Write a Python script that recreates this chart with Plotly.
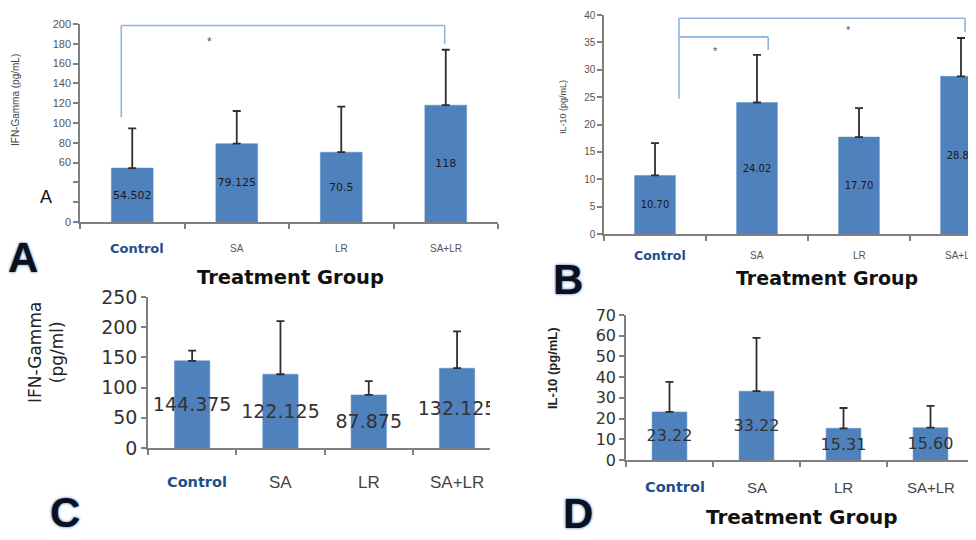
import plotly.graph_objects as go

# The page body adds an 8px margin, so the figure is drawn 8px smaller and
# reference pixel positions are shifted by that offset.
OFF = 8
W, H = 976 - OFF, 540 - OFF

categories = ["Control", "SA", "LR", "SA+LR"]

# Panel A: IFN-Gamma (first experiment)
a_values = [54.502, 79.125, 70.5, 118]
a_errors = [40, 33, 46, 56]
a_labels = ["54.502", "79.125", "70.5", "118"]
a_ticks = [0, 20, 40, 60, 80, 100, 120, 140, 160, 180, 200]
a_ticktext = ["0", "", "", "60", "80", "100", "120", "140", "160", "180", "200"]

# Panel B: IL-10 (first experiment)
b_values = [10.70, 24.02, 17.70, 28.80]
b_errors = [5.9, 8.7, 5.3, 7.0]
b_labels = ["10.70", "24.02", "17.70", "28.80"]
b_ticks = [0, 5, 10, 15, 20, 25, 30, 35, 40]

# Panel C: IFN-Gamma (second experiment)
c_values = [144.375, 122.125, 87.875, 132.125]
c_errors = [17, 88, 23, 61]
c_labels = ["144.375", "122.125", "87.875", "132.125"]
c_ticks = [0, 50, 100, 150, 200, 250]

# Panel D: IL-10 (second experiment)
d_values = [23.22, 33.22, 15.31, 15.60]
d_errors = [14.5, 25.7, 9.8, 10.5]
d_labels = ["23.22", "33.22", "15.31", "15.60"]
d_ticks = [0, 10, 20, 30, 40, 50, 60, 70]


def px(x):
    return (x - OFF) / W


def py(y):
    return 1 - (y - OFF) / H


BAR = "#4f81bd"
AXIS = "#7f7f7f"
ERR = "#2e2e2e"
BRACKET = "#8db4e2"
CTRL = "#1f4e8c"

fig = go.Figure()

panels = [
    dict(key="", vals=a_values, errs=a_errors, labels=a_labels, tsize=11, tcolor="#1a1a1a"),
    dict(key="2", vals=b_values, errs=b_errors, labels=b_labels, tsize=10, tcolor="#1a1a1a"),
    dict(key="3", vals=c_values, errs=c_errors, labels=c_labels, tsize=19, tcolor="#333333"),
    dict(key="4", vals=d_values, errs=d_errors, labels=d_labels, tsize=16, tcolor="#333333"),
]

for p in panels:
    fig.add_trace(go.Bar(
        x=categories, y=p["vals"], width=0.4,
        marker=dict(color=BAR, line=dict(color="#5b8cc6", width=0.5)),
        error_y=dict(type="data", array=p["errs"], arrayminus=[0] * 4, symmetric=False,
                     color=ERR, thickness=1.8, width=4),
        text=p["labels"], textposition="inside", insidetextanchor="middle",
        textangle=0, constraintext="none",
        textfont=dict(family="DejaVu Sans", size=p["tsize"], color=p["tcolor"]),
        xaxis="x" + p["key"], yaxis="y" + p["key"], showlegend=False, hoverinfo="skip",
    ))


def xax(domain, rng, anchor):
    return dict(domain=domain, range=rng, anchor=anchor, type="category",
                showline=True, linecolor=AXIS, linewidth=1.5,
                ticks="outside", tickson="boundaries", ticklen=5, tickcolor=AXIS, tickwidth=1.5,
                showticklabels=False, showgrid=False, zeroline=False, fixedrange=True,
                automargin=False)


def yax(domain, rng, anchor, ticks, ticktext, size, color, family="Liberation Sans"):
    return dict(domain=domain, range=rng, anchor=anchor,
                showline=True, linecolor=AXIS, linewidth=1.5,
                ticks="outside", ticklen=5, tickcolor=AXIS, tickwidth=1.5,
                tickvals=ticks, ticktext=ticktext,
                tickfont=dict(family=family, size=size, color=color),
                showgrid=False, zeroline=False, fixedrange=True, automargin=False)


fig.update_layout(
    width=W, height=H, margin=dict(l=0, r=0, t=0, b=0, pad=0, autoexpand=False),
    paper_bgcolor="white", plot_bgcolor="rgba(0,0,0,0)",
    bargap=0.6,
    xaxis=xax([px(80), px(498)], [-0.5, 3.5], "y"),
    yaxis=yax([py(222), py(24)], [0, 200], "x", a_ticks, a_ticktext, 11, "#555555"),
    xaxis2=xax([px(604), 1.0], [-0.5, -0.5 + (976 - 604) / 102.0], "y2"),
    yaxis2=yax([py(234), py(15)], [0, 40], "x2", b_ticks, [str(t) for t in b_ticks], 10, "#555555"),
    xaxis3=xax([px(148), px(490)], [-0.5, -0.5 + (490 - 148) / 88.3], "y3"),
    yaxis3=yax([py(448), py(297)], [0, 250], "x3", c_ticks, [str(t) for t in c_ticks], 19, "#333333", "DejaVu Sans"),
    xaxis4=xax([px(626), px(974)], [-0.5, 3.5], "y4"),
    yaxis4=yax([py(460), py(315)], [0, 70], "x4", d_ticks, [str(t) for t in d_ticks], 16, "#333333", "DejaVu Sans"),
)

ann = []


def pann(xc, yc, text, font, angle=0, yanchor="middle"):
    return dict(x=px(xc), y=py(yc), xref="paper", yref="paper", text=text, textangle=angle,
                xanchor="center", yanchor=yanchor, showarrow=False, font=font)


# Category labels (positioned through each x axis)
cat_specs = [
    ("x", 249, 13, 10, "#555555"),
    ("x2", 255, 12.5, 10, "#555555"),
    ("x3", 482, 14.5, 17, "#444444"),
    ("x4", 487, 14.5, 15, "#444444"),
]
for xref, ypix, csize, size, color in cat_specs:
    for c in categories:
        if c == "Control":
            ann.append(dict(x=c, y=py(ypix), xref=xref, yref="paper", text="<b>" + c + "</b>",
                            showarrow=False, xshift=5, xanchor="center", yanchor="middle",
                            font=dict(family="DejaVu Sans", size=csize, color=CTRL, weight=900)))
        else:
            ann.append(dict(x=c, y=py(ypix), xref=xref, yref="paper", text=c, showarrow=False,
                            xanchor="center", yanchor="middle",
                            font=dict(family="Liberation Sans", size=size, color=color)))

# "Treatment Group" titles
for xc, yc, fs in [(290, 277, 19.5), (827, 278, 19), (802, 517, 20)]:
    ann.append(pann(xc, yc, "<b>Treatment Group</b>",
                    dict(family="DejaVu Sans", size=fs, color="#111111")))

# Y-axis titles
ann += [
    pann(16, 100, "IFN-Gamma (pg/mL)", dict(family="Liberation Sans", size=10, color="#444444"), -90),
    pann(563, 107, "IL-10 (pg/mL)", dict(family="Liberation Sans", size=9, color="#444444"), -90),
    pann(46, 353, "IFN-Gamma<br>(pg/ml)", dict(family="DejaVu Sans", size=17, color="#222222"), -90),
    pann(552, 368, "<b>IL-10 (pg/mL)</b>", dict(family="Liberation Sans", size=13, color="#222222"), -90),
]

# Panel letters
letter_font = dict(family="Liberation Sans", size=42, color="#0b0f1e",
                   shadow="0px 0px 3px #2f64b0")
ann.append(pann(23, 257, "<b>A</b>", letter_font))
ann.append(pann(568, 279, "<b>B</b>", letter_font))
ann.append(pann(65, 538, "<b>C</b>", letter_font, yanchor="bottom"))
ann.append(pann(578, 539, "<b>D</b>", letter_font, yanchor="bottom"))

# Stray "A" in panel A
ann.append(pann(46, 197, "A", dict(family="Liberation Sans", size=18, color="#111111")))

# Significance stars
ann += [
    dict(x=0.74, y=182, xref="x", yref="y", text="*", showarrow=False,
         font=dict(family="Liberation Sans", size=12, color="#555555")),
    dict(x=0.59, y=33.5, xref="x2", yref="y2", text="*", showarrow=False,
         font=dict(family="Liberation Sans", size=11, color="#555555")),
    dict(x=1.90, y=37.3, xref="x2", yref="y2", text="*", showarrow=False,
         font=dict(family="Liberation Sans", size=11, color="#555555")),
]

fig.update_layout(annotations=ann)

# Significance brackets
line = dict(color=BRACKET, width=1.6)
shapes = []


def bracket(xr, yr, x0, x1, ylow, ytop, yend):
    return [
        dict(type="line", xref=xr, yref=yr, x0=x0, x1=x0, y0=ylow, y1=ytop, line=line),
        dict(type="line", xref=xr, yref=yr, x0=x0, x1=x1, y0=ytop, y1=ytop, line=line),
        dict(type="line", xref=xr, yref=yr, x0=x1, x1=x1, y0=ytop, y1=yend, line=line),
    ]


shapes += bracket("x", "y", -0.105, 2.99, 106, 198.5, 180)
shapes += bracket("x2", "y2", 0.235, 3.04, 24.7, 39.4, 36.9)
shapes += bracket("x2", "y2", 0.235, 1.11, 36.0, 36.0, 33.6)
fig.update_layout(shapes=shapes)

fig.write_html("out.html")
